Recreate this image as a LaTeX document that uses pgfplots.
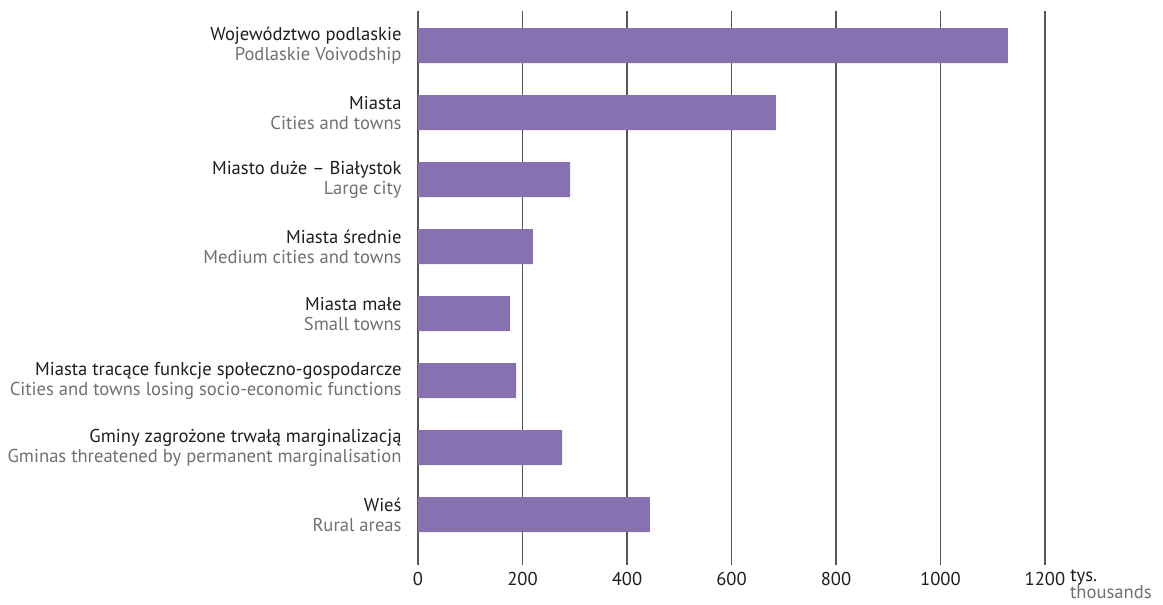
\documentclass[border=0pt]{standalone}
\usepackage{fontspec}
\setmainfont{PT Sans}
\usepackage{pgfplots}
\pgfplotsset{compat=1.18}
\definecolor{barpurple}{HTML}{8771B0}
\definecolor{subgray}{HTML}{707070}
\definecolor{maintext}{HTML}{1E1E1E}
\definecolor{gridgray}{HTML}{555555}

\newcommand{\lab}[2]{{\color{maintext}#1}\\{\color{subgray}#2}}

\begin{document}
\begin{tikzpicture}[font=\fontsize{9.3}{10}\selectfont]
\begin{axis}[
    scale only axis,
    width=313.5pt, height=277pt,
    xbar, bar width=17.5pt,
    xmin=0, xmax=1200,
    ymin=-0.515, ymax=7.75,
    y dir=reverse,
    axis line style={draw=none},
    major tick length=0pt,
    xmajorgrids,
    grid style={gridgray, line width=0.55pt},
    xtick={0,200,...,1200},
    ytick={0,...,7},
    yticklabels={
        \lab{Województwo podlaskie}{Podlaskie Voivodship},
        \lab{Miasta}{Cities and towns},
        \lab{Miasto duże – Białystok}{Large city},
        \lab{Miasta średnie}{Medium cities and towns},
        \lab{Miasta małe}{Small towns},
        \lab{Miasta tracące funkcje społeczno-gospodarcze}{Cities and towns losing socio-economic functions},
        \lab{Gminy zagrożone trwałą marginalizacją}{Gminas threatened by permanent marginalisation},
        \lab{Wieś}{Rural areas}
    },
    yticklabel style={align=right, xshift=-4.7pt},
    xticklabel style={text=maintext},
    /pgf/number format/assume math mode=true,
    /pgf/number format/1000 sep={},
]
\addplot[fill=barpurple, draw=none] coordinates {
    (1129,0)
    (685,1)
    (291,2)
    (220,3)
    (176,4)
    (188,5)
    (276,6)
    (444,7)
};
\end{axis}
\node[anchor=base west, text=maintext, inner sep=0pt] at ([xshift=12.5pt, yshift=-8.5pt]current axis.south east) {tys.};
\node[anchor=base east, text=subgray, inner sep=0pt] at ([xshift=53.5pt, yshift=-17pt]current axis.south east) {thousands};
\path[use as bounding box] ([xshift=-209pt, yshift=5.5pt]current axis.north west) rectangle ([xshift=59pt, yshift=-20pt]current axis.south east);
\end{tikzpicture}
\end{document}
